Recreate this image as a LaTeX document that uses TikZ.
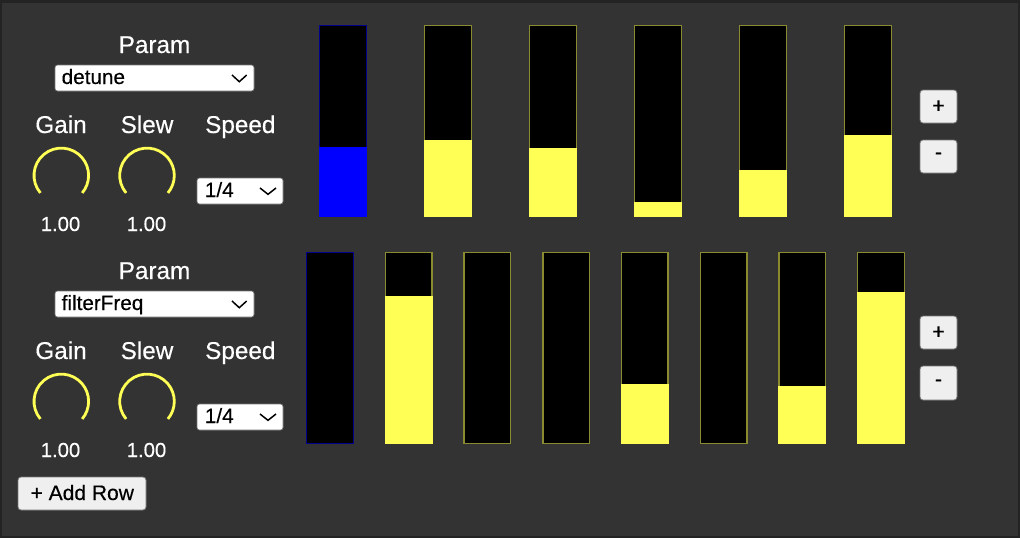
\documentclass[tikz,border=0pt]{standalone}
\usepackage{fontspec}
\setmainfont[FakeBold=0.35]{Liberation Sans}
\definecolor{bg}{HTML}{333333}
\definecolor{framec}{HTML}{232323}
\definecolor{ylw}{HTML}{FFFF55}
\definecolor{ylwb}{HTML}{8A8A30}
\definecolor{blu}{HTML}{0000FF}
\definecolor{blub}{HTML}{00008C}
\definecolor{btn}{HTML}{EFEFEF}
\definecolor{btnb}{HTML}{767676}
\tikzset{
  lbl/.style={anchor=base, text=white, inner sep=0pt, font=\fontsize{24.3}{28}\selectfont},
  val/.style={anchor=base, text=white, inner sep=0pt, font=\fontsize{20.3}{24}\selectfont},
  seltxt/.style={anchor=base west, text=black, inner sep=0pt, font=\fontsize{20.7}{24}\selectfont},
  selbox/.style={fill=white, draw=btnb, line width=0.6pt, rounded corners=2.5pt},
  btnbox/.style={fill=btn, draw=btnb, line width=0.8pt, rounded corners=3pt},
  btntxt/.style={text=black, inner sep=0pt, font=\fontsize{21.5}{24}\selectfont},
  chev/.style={draw=black, line width=1.5pt},
  knob/.style={draw=ylw, line width=2.8pt},
  barline/.style={line width=1.4pt},
}
\begin{document}
\begin{tikzpicture}[x=1pt,y=-1pt]
\useasboundingbox (0,0) rectangle (1020,538);
\fill[framec] (0,0) rectangle (1020,538);
\fill[bg] (2,3) rectangle (1018,536);

% ---------- left panels ----------
\foreach \r/\dy/\sel in {1/0/detune, 2/226/filterFreq}{
  \begin{scope}[yshift=-\dy pt]
    \node[lbl] (param\r) at (154.5,53) {Param};
    \draw[selbox] (55,65) rectangle (254,91);
    \node[seltxt] (sel\r) at (61.5,84) {\sel};
    \draw[chev] (232,75) -- (239.3,81.7) -- (246.7,75);
    \node[lbl] (gain\r) at (61,133) {Gain};
    \node[lbl] (slew\r) at (147,133) {Slew};
    \node[lbl] (speed\r) at (240.3,133) {Speed};
    \draw[knob] (61.3,175.4) ++(140:27.3) arc[start angle=140, end angle=400, radius=27.3];
    \draw[knob] (147,175.4) ++(140:27.3) arc[start angle=140, end angle=400, radius=27.3];
    \node[val] (gainv\r) at (60.5,231) {1.00};
    \node[val] (slewv\r) at (146.5,231) {1.00};
    \draw[selbox] (197,178) rectangle (283,204);
    \node[seltxt] (spd\r) at (204.7,197) {1/4};
    \draw[chev] (260,188) -- (268,194.3) -- (276,188);
  \end{scope}
}

% ---------- add row ----------
\draw[btnbox] (18,477) rectangle (146,510);
\node[btntxt, anchor=base, font=\fontsize{21}{24}\selectfont] (addrow) at (82.3,500) {+ Add Row};

% ---------- row 1 bars ----------
\foreach \i/\t in {0/147,1/140,2/148,3/202,4/170,5/135}{
  \pgfmathsetmacro{\xa}{319+105*\i}
  \pgfmathsetmacro{\xb}{\xa+48}
  \fill[black] (\xa,25) rectangle (\xb,217);
  \ifnum\i=0
    \draw[blub, barline] (\xa+0.7,25.7) rectangle (\xb-0.7,216.3);
    \fill[blu] (\xa,\t) rectangle (\xb,217);
  \else
    \draw[ylwb, barline] (\xa+0.7,25.7) rectangle (\xb-0.7,216.3);
    \fill[ylw] (\xa,\t) rectangle (\xb,217);
  \fi
}

% ---------- row 2 bars ----------
\foreach \i/\t in {0/0,1/296,2/0,3/0,4/384,5/0,6/386,7/292}{
  \pgfmathsetmacro{\xa}{306+78.71*\i}
  \pgfmathsetmacro{\xb}{\xa+48}
  \fill[black] (\xa,252) rectangle (\xb,444);
  \ifnum\i=0
    \draw[blub, barline] (\xa+0.7,252.7) rectangle (\xb-0.7,443.3);
  \else
    \draw[ylwb, barline] (\xa+0.7,252.7) rectangle (\xb-0.7,443.3);
  \fi
  \ifnum\t>0
    \fill[ylw] (\xa,\t) rectangle (\xb,444);
  \fi
}

% ---------- +/- buttons ----------
\draw[btnbox] (920,90) rectangle (957,123);
\node[btntxt] (plus1) at (938.5,106.5) {+};
\draw[btnbox] (920,140) rectangle (957,173);
\node[btntxt] (minus1) at (938.5,156) {-};
\draw[btnbox] (920,316) rectangle (957,349);
\node[btntxt] (plus2) at (938.5,332.5) {+};
\draw[btnbox] (920,366) rectangle (957,400);
\node[btntxt] (minus2) at (938.5,383) {-};
\end{tikzpicture}
\end{document}
